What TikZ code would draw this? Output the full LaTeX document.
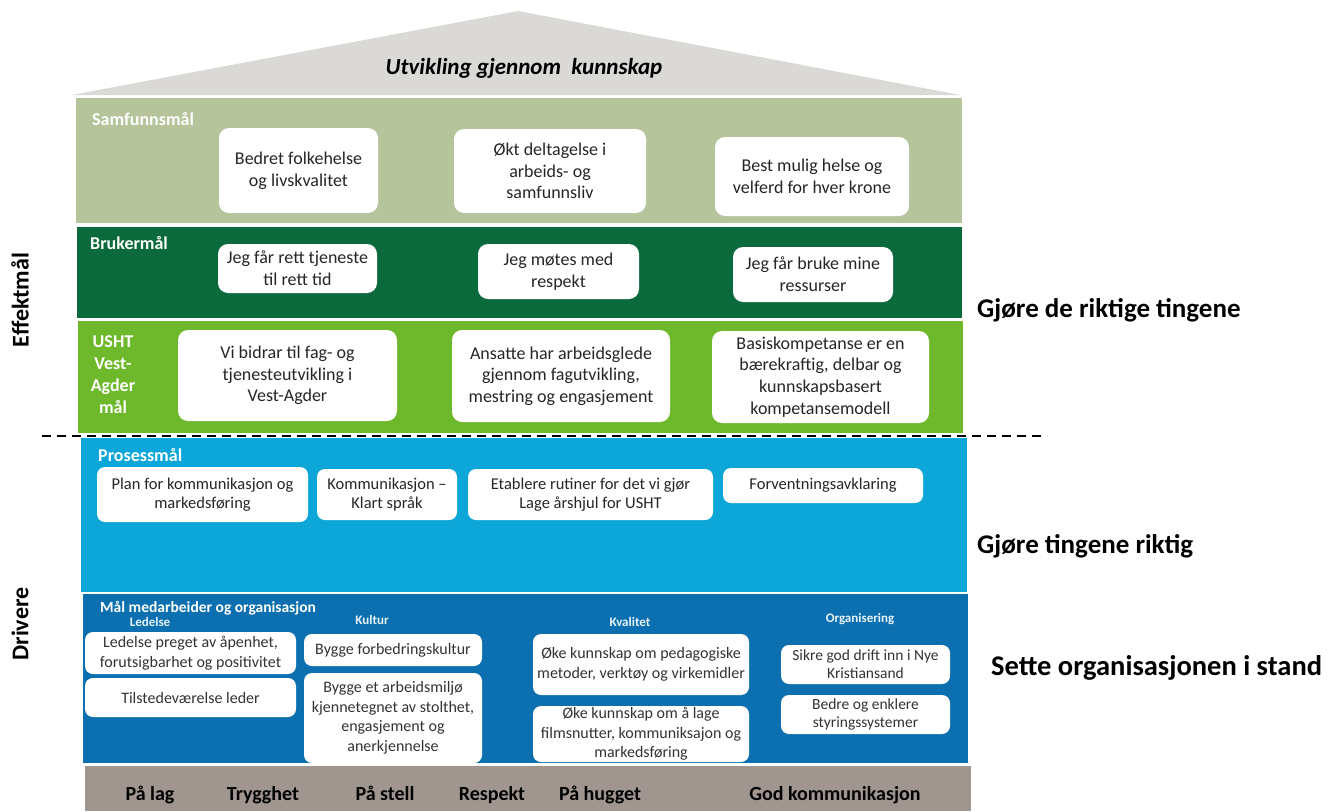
\documentclass[tikz,border=0pt]{standalone}
\usepackage{fontspec}
\setmainfont{Carlito}
\definecolor{roofc}{HTML}{DAD9D6}
\definecolor{samf}{HTML}{B5C49A}
\definecolor{bruk}{HTML}{0B6A3B}
\definecolor{usht}{HTML}{6EB92B}
\definecolor{pros}{HTML}{0DA6D8}
\definecolor{medb}{HTML}{0B6FB0}
\definecolor{basec}{HTML}{A0968F}
\definecolor{txt}{HTML}{262626}
\definecolor{txtb}{HTML}{333333}
\definecolor{lbl}{HTML}{E8F3FA}
\newcommand\setfs[2]{\fontsize{#1}{#2}\selectfont}
% box: style, name, x1, y1, x2, y2, text
\newcommand\mybox[7]{\node[#1, minimum width={#5-#3}, minimum height={#6-#4}] (#2) at ({(#3+#5)/2},{(#4+#6)/2}) {#7};}
\begin{document}
\begin{tikzpicture}[x=1pt,y=-1pt,
  wbox/.style={fill=white, rounded corners=10pt, inner sep=0pt, align=center, text=txt, font=\setfs{18}{21.7}},
  pbox/.style={wbox, rounded corners=8pt, font=\setfs{16.5}{19.5}},
  lbox/.style={wbox, rounded corners=8pt, text=txtb, font=\setfs{16}{19.5}},
  obox/.style={lbox, font=\setfs{15.5}{18}},
  bandlbl/.style={anchor=west, inner sep=0pt, text=white, font=\setfs{18}{22}\bfseries},
  sublbl/.style={inner sep=0pt, text=lbl, font=\setfs{13}{15}\bfseries},
  sidelbl/.style={anchor=west, inner sep=0pt, text=black, font=\setfs{27}{30}\bfseries},
  leftlbl/.style={rotate=90, inner sep=0pt, text=black, font=\setfs{24}{28}\bfseries},
  baselbl/.style={anchor=base, inner sep=0pt, text=black, font=\setfs{20}{24}\bfseries}
]
\useasboundingbox (0,0) rectangle (1330,811);
% roof
\fill[roofc] (72,95) -- (518,11) -- (960,95) -- cycle;
\node[inner sep=0pt, font=\setfs{23}{26}\bfseries\itshape] (title) at (524,68) {Utvikling gjennom\ \ kunnskap};
% bands
\fill[samf]  (76,98)  rectangle (962,223);
\fill[bruk]  (77,227) rectangle (962,318);
\fill[usht]  (78,321) rectangle (963,433);
\fill[pros]  (81,438) rectangle (967,592);
\fill[medb]  (83,594) rectangle (968,763);
\fill[basec] (85,766) rectangle (971,811);
% dashed separator
\coordinate (dl) at (42,436);
\coordinate (dr) at (1047,436);
\draw[black, line width=2pt, dash pattern=on 9pt off 6pt] (dl) -- (dr);
% band labels
\node[bandlbl] (lsamf) at (92,119) {Samfunnsmål};
\node[bandlbl] (lbruk) at (90,243) {Brukermål};
\node[bandlbl, anchor=center, align=center] (lusht) at (113,375) {USHT\\Vest-\\Agder\\mål};
\node[bandlbl] (lpros) at (98,455) {Prosessmål};
\node[bandlbl, font=\setfs{15.5}{18}\bfseries] (lmedb) at (100,608) {Mål medarbeider og organisasjon};
\node[sublbl] (lled) at (150,622) {Ledelse};
\node[sublbl] (lkul) at (372,620) {Kultur};
\node[sublbl] (lkva) at (630,622) {Kvalitet};
\node[sublbl] (lorg) at (860,619) {Organisering};
% samfunnsmaal
\mybox{wbox}{b1}{219}{128}{378}{213}{Bedret folkehelse\\og livskvalitet}
\mybox{wbox}{b2}{454}{129}{646}{213}{Økt deltagelse i\\arbeids- og\\samfunnsliv}
\mybox{wbox}{b3}{715}{137}{909}{216}{Best mulig helse og\\velferd for hver krone}
% brukermaal
\mybox{wbox}{c1}{218}{244}{377}{293}{Jeg får rett tjeneste\\til rett tid}
\mybox{wbox}{c2}{478}{244}{639}{299}{Jeg møtes med\\respekt}
\mybox{wbox}{c3}{733}{247}{893}{302}{Jeg får bruke mine\\ressurser}
% usht
\mybox{wbox}{d1}{178}{330}{397}{421}{Vi bidrar til fag- og\\tjenesteutvikling i\\Vest-Agder}
\mybox{wbox}{d2}{452}{330}{670}{422}{Ansatte har arbeidsglede\\gjennom fagutvikling,\\mestring og engasjement}
\mybox{wbox}{d3}{712}{331}{929}{423}{Basiskompetanse er en\\bærekraftig, delbar og\\kunnskapsbasert\\kompetansemodell}
% prosessmaal
\mybox{pbox}{p1}{97}{467}{308}{522}{Plan for kommunikasjon og\\markedsføring}
\mybox{pbox}{p2}{317}{469}{457}{520}{Kommunikasjon –\\Klart språk}
\mybox{pbox}{p3}{468}{469}{713}{520}{Etablere rutiner for det vi gjør\\Lage årshjul for USHT}
\mybox{pbox}{p4}{723}{468}{923}{503}{Forventningsavklaring}
% medarbeider og organisasjon
\mybox{lbox}{e1}{85}{632}{296}{674}{Ledelse preget av åpenhet,\\forutsigbarhet og positivitet}
\mybox{lbox}{e2}{85}{678}{296}{717}{Tilstedeværelse leder}
\mybox{lbox}{f1}{304}{634}{482}{666}{Bygge forbedringskultur}
\mybox{lbox}{f2}{304}{673}{482}{763}{Bygge et arbeidsmiljø\\kjennetegnet av stolthet,\\engasjement og\\anerkjennelse}
\mybox{lbox}{g1}{533}{634}{749}{695}{Øke kunnskap om pedagogiske\\metoder, verktøy og virkemidler}
\mybox{lbox}{g2}{533}{706}{749}{762}{Øke kunnskap om å lage\\filmsnutter, kommuniksajon og\\markedsføring}
\mybox{obox}{h1}{781}{645}{950}{684}{Sikre god drift inn i Nye\\Kristiansand}
\mybox{obox}{h2}{781}{695}{950}{734}{Bedre og enklere\\styringssystemer}
% base values
\node[baselbl] (v1) at (150,800) {På lag};
\node[baselbl] (v2) at (263,800) {Trygghet};
\node[baselbl] (v3) at (385,800) {På stell};
\node[baselbl] (v4) at (492,800) {Respekt};
\node[baselbl] (v5) at (600,800) {På hugget};
\node[baselbl] (v6) at (835,800) {God kommunikasjon};
% side labels
\node[sidelbl] (r1) at (977,310) {Gjøre de riktige tingene};
\node[sidelbl] (r2) at (977,546) {Gjøre tingene riktig};
\node[sidelbl, font=\setfs{28.5}{31}\bfseries] (r3) at (991,668) {Sette organisasjonen i stand};
\node[leftlbl] (l1) at (20,300) {Effektmål};
\node[leftlbl] (l2) at (20,624) {Drivere};
\end{tikzpicture}
\end{document}
